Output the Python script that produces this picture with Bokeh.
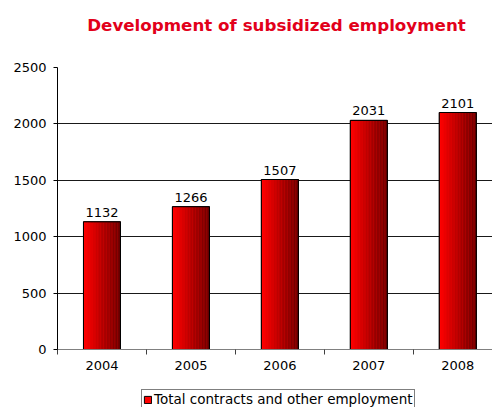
from bokeh.plotting import figure
from bokeh.layouts import column
from bokeh.models import (ColumnDataSource, FixedTicker, Legend, LegendItem,
                          Range1d, Label)
from bokeh.embed import file_html
from bokeh.resources import INLINE

years = ["2004", "2005", "2006", "2007", "2008"]
values = [1132, 1266, 1507, 2031, 2101]
y_ticks = [0, 500, 1000, 1500, 2000, 2500]
title_text = "Development of subsidized employment"
legend_label = "Total contracts and other employment"

FONT = "DejaVu Sans"
BAR_W = 0.416
N_STRIPS = 24
LEFT = 57

def strip_fig(h):
    f = figure(width=492, height=h, output_backend="svg", toolbar_location=None,
               x_range=Range1d(0, 1), y_range=Range1d(0, 1),
               x_axis_location=None, y_axis_location=None,
               min_border_left=LEFT, min_border_right=0,
               min_border_top=0, min_border_bottom=0)
    f.outline_line_color = None
    f.xgrid.grid_line_color = None
    f.ygrid.grid_line_color = None
    return f

# title strip
pt = strip_fig(45)
pt.add_layout(Label(x=219, y=21, x_units="screen", y_units="screen",
                    text=title_text, text_align="center",
                    text_baseline="alphabetic", text_color="#e2001a",
                    text_font=FONT, text_font_size="16.7px",
                    text_font_style="bold"))

# main chart (plot area runs past the right edge, as in the original)
p = figure(width=492, height=338, output_backend="svg", toolbar_location=None,
           x_range=Range1d(-0.5, 4.39), y_range=Range1d(0, 2500),
           min_border_left=LEFT, min_border_right=0, min_border_top=22,
           min_border_bottom=34)
p.outline_line_color = None
p.background_fill_color = "white"
p.border_fill_color = "white"

xs = list(range(len(years)))
base = ColumnDataSource(dict(x=xs, top=values))
p.vbar(x="x", top="top", width=BAR_W, source=base,
       fill_color="#ff0000", line_color="black", line_width=1)

def lerp(a, b, t):
    return int(round(a + (b - a) * t))

sx, stop, scol = [], [], []
sw = BAR_W / N_STRIPS
for i, v in zip(xs, values):
    for k in range(N_STRIPS):
        t = k / (N_STRIPS - 1)
        r = lerp(0xff, 0x68, t)
        sx.append(i - BAR_W / 2 + (k + 0.5) * sw)
        stop.append(v)
        scol.append("#%02x0000" % r)
p.vbar(x=sx, top=stop, width=sw * 1.02, fill_color=scol, line_color=None)
p.vbar(x="x", top="top", width=BAR_W, source=base, fill_alpha=0,
       line_color="black", line_width=1)

p.text(x=xs, y=values, text=[str(v) for v in values], text_align="center",
       text_baseline="bottom", y_offset=-5, text_font_size="13px",
       text_color="black", text_font={"value": FONT})

p.xaxis.ticker = FixedTicker(ticks=xs, minor_ticks=[-0.5, 0.5, 1.5, 2.5, 3.5, 4.5])
p.xaxis.major_label_overrides = {i: y for i, y in zip(xs, years)}
p.xaxis.major_tick_out = 0
p.xaxis.major_tick_in = 0
p.xaxis.minor_tick_out = 5
p.xaxis.minor_tick_in = 0
p.xaxis.axis_line_color = "#808080"
p.xaxis.minor_tick_line_color = "#404040"
p.xaxis.major_label_text_font = FONT
p.xaxis.major_label_text_font_size = "13px"
p.xaxis.major_label_text_color = "black"
p.xaxis.major_label_standoff = 6

p.yaxis.ticker = FixedTicker(ticks=y_ticks, minor_ticks=[])
p.yaxis.major_tick_out = 4
p.yaxis.major_tick_in = 0
p.yaxis.axis_line_color = "black"
p.yaxis.major_tick_line_color = "black"
p.yaxis.major_label_text_font = FONT
p.yaxis.major_label_text_font_size = "13px"
p.yaxis.major_label_text_color = "black"
p.yaxis.major_label_standoff = 7

p.xgrid.grid_line_color = None
p.ygrid.ticker = FixedTicker(ticks=y_ticks[1:])
p.ygrid.grid_line_color = "black"
p.ygrid.grid_line_alpha = 0.9

# legend strip
p2 = strip_fig(24)
leg_r = p2.vbar(x=[0.5], top=[float("nan")], width=0.1, fill_color="#ff0000",
                line_color="black", line_width=1)
legend = Legend(items=[LegendItem(label=legend_label, renderers=[leg_r])],
                orientation="horizontal", location=(84, -2),
                border_line_color="black", border_line_width=1,
                label_text_font=FONT, label_text_font_size="13.5px",
                label_text_color="black", glyph_width=9, glyph_height=9,
                padding=1, spacing=0, margin=0, label_standoff=2,
                label_height=13, background_fill_alpha=1)
p2.add_layout(legend, "center")

layout = column(pt, p, p2, spacing=0)
open("out.html", "w").write(file_html(layout, INLINE))
